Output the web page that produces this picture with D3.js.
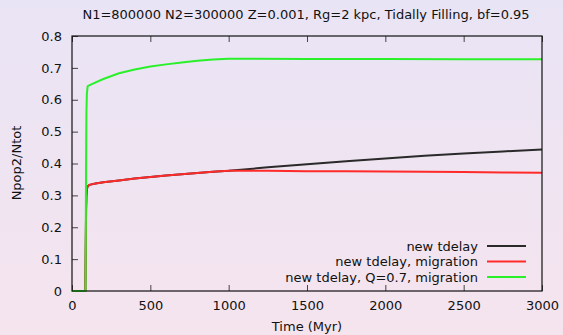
<!DOCTYPE html>
<html>
<head>
<meta charset="utf-8">
<script src="https://cdn.jsdelivr.net/npm/d3@7"></script>
<style>
  html, body { margin: 0; padding: 0; }
  svg { display: block; font-family: "DejaVu Sans", sans-serif; }
</style>
</head>
<body>
<svg id="chart" width="563" height="335"></svg>
<script>
// Fraction of second-population stars over time
const timeBase = [0, 85, 88, 90, 92, 95, 100, 110, 150, 200, 300, 400, 500, 600, 700, 800, 900, 1000];
const fracBase = [0, 0, 0.15, 0.26, 0.30, 0.32, 0.328, 0.333, 0.337, 0.341, 0.347, 0.353, 0.358, 0.362, 0.366, 0.370, 0.374, 0.377];

const timeLate = [1250, 1500, 1750, 2000, 2250, 2500, 2750, 3000];
const fracTdelay = [0.388, 0.398, 0.407, 0.416, 0.424, 0.431, 0.438, 0.444];
const fracMigration = [0.377, 0.376, 0.376, 0.375, 0.374, 0.373, 0.372, 0.371];

const timeQ = [0, 86, 88, 90, 92, 95, 100, 130, 200, 300, 400, 500, 600, 700, 800, 900, 1000, 1500, 2000, 2500, 3000];
const fracQ = [0, 0, 0.2, 0.42, 0.56, 0.62, 0.643, 0.650, 0.665, 0.683, 0.695, 0.704, 0.711, 0.717, 0.722, 0.726, 0.729, 0.728, 0.728, 0.727, 0.727];

const xTicks = [0, 500, 1000, 1500, 2000, 2500, 3000];
const yTicks = [0, 0.1, 0.2, 0.3, 0.4, 0.5, 0.6, 0.7, 0.8];

const seriesNames = ["new tdelay", "new tdelay, migration", "new tdelay, Q=0.7, migration"];
const seriesColors = ["#2a2a2a", "#ff2a2a", "#2af02a"];

const titleText = "N1=800000 N2=300000 Z=0.001, Rg=2 kpc, Tidally Filling, bf=0.95";

const series = [
  { x: timeBase.concat(timeLate), y: fracBase.concat(fracTdelay) },
  { x: timeBase.concat(timeLate), y: fracBase.concat(fracMigration) },
  { x: timeQ, y: fracQ }
];

const W = 563, H = 335;
const m = { left: 72, right: 21, top: 36, bottom: 44 };
const svg = d3.select("#chart");

// background wash
const defs = svg.append("defs");
const grad = defs.append("linearGradient").attr("id", "bg").attr("x1", 0).attr("y1", 0).attr("x2", 0).attr("y2", 1);
grad.append("stop").attr("offset", "0%").attr("stop-color", "#e9e4f5");
grad.append("stop").attr("offset", "100%").attr("stop-color", "#f5e4ee");
svg.append("rect").attr("width", W).attr("height", H).attr("fill", "url(#bg)");

const x = d3.scaleLinear().domain([0, 3000]).range([m.left, W - m.right]);
const y = d3.scaleLinear().domain([0, 0.8]).range([H - m.bottom, m.top]);

const fontSize = 13;

// axes with inward ticks
const xAxis = svg.append("g").attr("transform", `translate(0,${y(0)})`)
  .call(d3.axisBottom(x).tickValues(xTicks).tickSize(-6).tickPadding(10).tickFormat(d3.format("d")));
const xTop = svg.append("g").attr("transform", `translate(0,${y(0.8)})`)
  .call(d3.axisTop(x).tickValues(xTicks).tickSize(-6).tickFormat(""));
const yAxis = svg.append("g").attr("transform", `translate(${x(0)},0)`)
  .call(d3.axisLeft(y).tickValues(yTicks).tickSize(-6).tickPadding(10).tickFormat(d => d === 0 ? "0" : d3.format(".1f")(d)));

[xAxis, xTop, yAxis].forEach(g => {
  g.select(".domain").remove();
  g.selectAll(".tick line").attr("stroke", "#444").attr("stroke-width", 1);
  g.selectAll(".tick text").attr("fill", "#111").style("font-size", fontSize + "px").style("font-family", "DejaVu Sans, sans-serif");
});

// data lines
const line = d3.line().x(d => x(d[0])).y(d => y(d[1]));
series.forEach((s, i) => {
  svg.append("path")
    .datum(s.x.map((t, k) => [t, s.y[k]]))
    .attr("fill", "none")
    .attr("stroke", seriesColors[i])
    .attr("stroke-width", 2)
    .attr("stroke-linejoin", "round")
    .attr("d", line);
});

// frame
svg.append("rect")
  .attr("x", x(0)).attr("y", y(0.8))
  .attr("width", x(3000) - x(0)).attr("height", y(0) - y(0.8))
  .attr("fill", "none").attr("stroke", "#111").attr("stroke-width", 1.2);

// legend
const legend = svg.append("g");
seriesNames.forEach((name, i) => {
  const ly = 246 + i * 15.5;
  legend.append("text")
    .attr("x", 478).attr("y", ly).attr("dy", "0.35em")
    .attr("text-anchor", "end").attr("fill", "#111")
    .style("font-size", fontSize + "px")
    .text(name);
  legend.append("line")
    .attr("x1", 487).attr("x2", 526).attr("y1", ly).attr("y2", ly)
    .attr("stroke", seriesColors[i]).attr("stroke-width", 2);
});

// title and axis labels
svg.append("text").attr("x", 306).attr("y", 19).attr("text-anchor", "middle")
  .attr("fill", "#111").style("font-size", fontSize + "px").text(titleText);
svg.append("text").attr("x", 307).attr("y", 331).attr("text-anchor", "middle")
  .attr("fill", "#111").style("font-size", fontSize + "px").text("Time (Myr)");
svg.append("text").attr("transform", "translate(21,163) rotate(-90)").attr("text-anchor", "middle")
  .attr("fill", "#111").style("font-size", fontSize + "px").text("Npop2/Ntot");
</script>
</body>
</html>
